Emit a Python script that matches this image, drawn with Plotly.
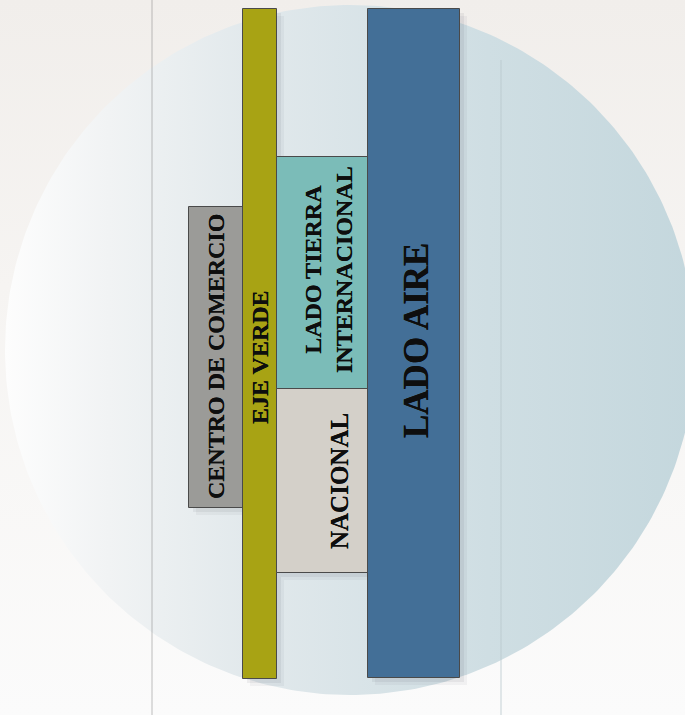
import numpy as np
import plotly.graph_objects as go

# Diagram data (layout units: 0..685 horizontally, 0..715 vertically, top-down)
zones = ["CENTRO DE COMERCIO", "EJE VERDE", "LADO TIERRA<br>INTERNACIONAL", "NACIONAL", "LADO AIRE"]
x_left = [189, 243, 277, 277, 368]
x_right = [243, 277, 368, 368, 460]
y_top = [207, 9, 157, 389, 9]
y_bottom = [508, 679, 389, 573, 678]
zone_colors = ["#9b9b98", "#a8a314", "#7bbcb8", "#d4d0c9", "#436f97"]
label_x = [216, 260, 328, 339, 416]
label_y = [357, 357, 270, 481, 341]
label_size = [24, 24, 24, 25, 35]

# background circle
circle_cx, circle_cy, circle_r = 350, 350, 345

fig = go.Figure()

# background vertical gradient
fig.add_trace(go.Scatter(
    x=[0, 685, 685, 0, 0], y=[0, 0, 715, 715, 0], mode="lines",
    line=dict(width=0), fill="toself",
    fillgradient=dict(type="vertical",
                      colorscale=[[0, "#fbfbfb"], [0.6, "#f6f4f2"], [1, "#f1eeeb"]]),
    hoverinfo="skip", showlegend=False))

t = np.linspace(0, 2 * np.pi, 361)
fig.add_trace(go.Scatter(
    x=circle_cx + circle_r * np.cos(t), y=circle_cy + circle_r * np.sin(t),
    mode="lines", line=dict(width=0), fill="toself",
    fillgradient=dict(type="horizontal",
                      colorscale=[[0, "#fdfdfd"], [0.15, "#f1f3f4"], [0.35, "#e2e9ec"],
                                  [0.7, "#cfdee3"], [1, "#c4d7dd"]]),
    hoverinfo="skip", showlegend=False))

centers = [(a + b) / 2 for a, b in zip(x_left, x_right)]
widths = [b - a for a, b in zip(x_left, x_right)]
heights = [b - a for a, b in zip(y_top, y_bottom)]

# soft shadows (on overlay axes so they sit above the background)
for off, alpha in [(7, 0.05), (4, 0.07)]:
    fig.add_trace(go.Bar(
        x=[c + off for c in centers], y=heights, base=[y + off for y in y_top], width=widths,
        marker=dict(color=f"rgba(50,60,70,{alpha})", line=dict(width=0)),
        xaxis="x2", yaxis="y2", hoverinfo="skip", showlegend=False))

fig.add_trace(go.Bar(
    x=centers, y=heights, base=y_top, width=widths,
    marker=dict(color=zone_colors, line=dict(color="#4a4a4a", width=1)),
    xaxis="x2", yaxis="y2", hoverinfo="skip", showlegend=False))

for i, z in enumerate(zones):
    fig.add_annotation(x=label_x[i], y=label_y[i], xref="x2", yref="y2",
                       text="<b>" + z + "</b>",
                       textangle=-90, showarrow=False,
                       font=dict(family="Liberation Serif", size=label_size[i], color="#0e0e0e",
                                 shadow="0px 0px 0.6px #0e0e0e"))

# thin vertical guide lines
fig.add_shape(type="line", x0=152, x1=152, y0=0, y1=715, xref="x2", yref="y2",
              line=dict(color="rgba(140,140,140,0.55)", width=1))
fig.add_shape(type="line", x0=501, x1=501, y0=60, y1=715, xref="x2", yref="y2",
              line=dict(color="rgba(185,200,205,0.8)", width=1))

fig.update_layout(
    width=685, height=715, margin=dict(l=0, r=0, t=0, b=0),
    paper_bgcolor="#f7f5f3", plot_bgcolor="rgba(0,0,0,0)",
    xaxis=dict(range=[0, 685], visible=False, fixedrange=True),
    yaxis=dict(range=[715, 0], visible=False, fixedrange=True),
    xaxis2=dict(range=[0, 685], visible=False, fixedrange=True, overlaying="x"),
    yaxis2=dict(range=[715, 0], visible=False, fixedrange=True, overlaying="y"),
    bargap=0, barmode="overlay",
)

fig.write_html("out.html", config={"displayModeBar": False},
               post_script="document.body.style.margin='0';")
